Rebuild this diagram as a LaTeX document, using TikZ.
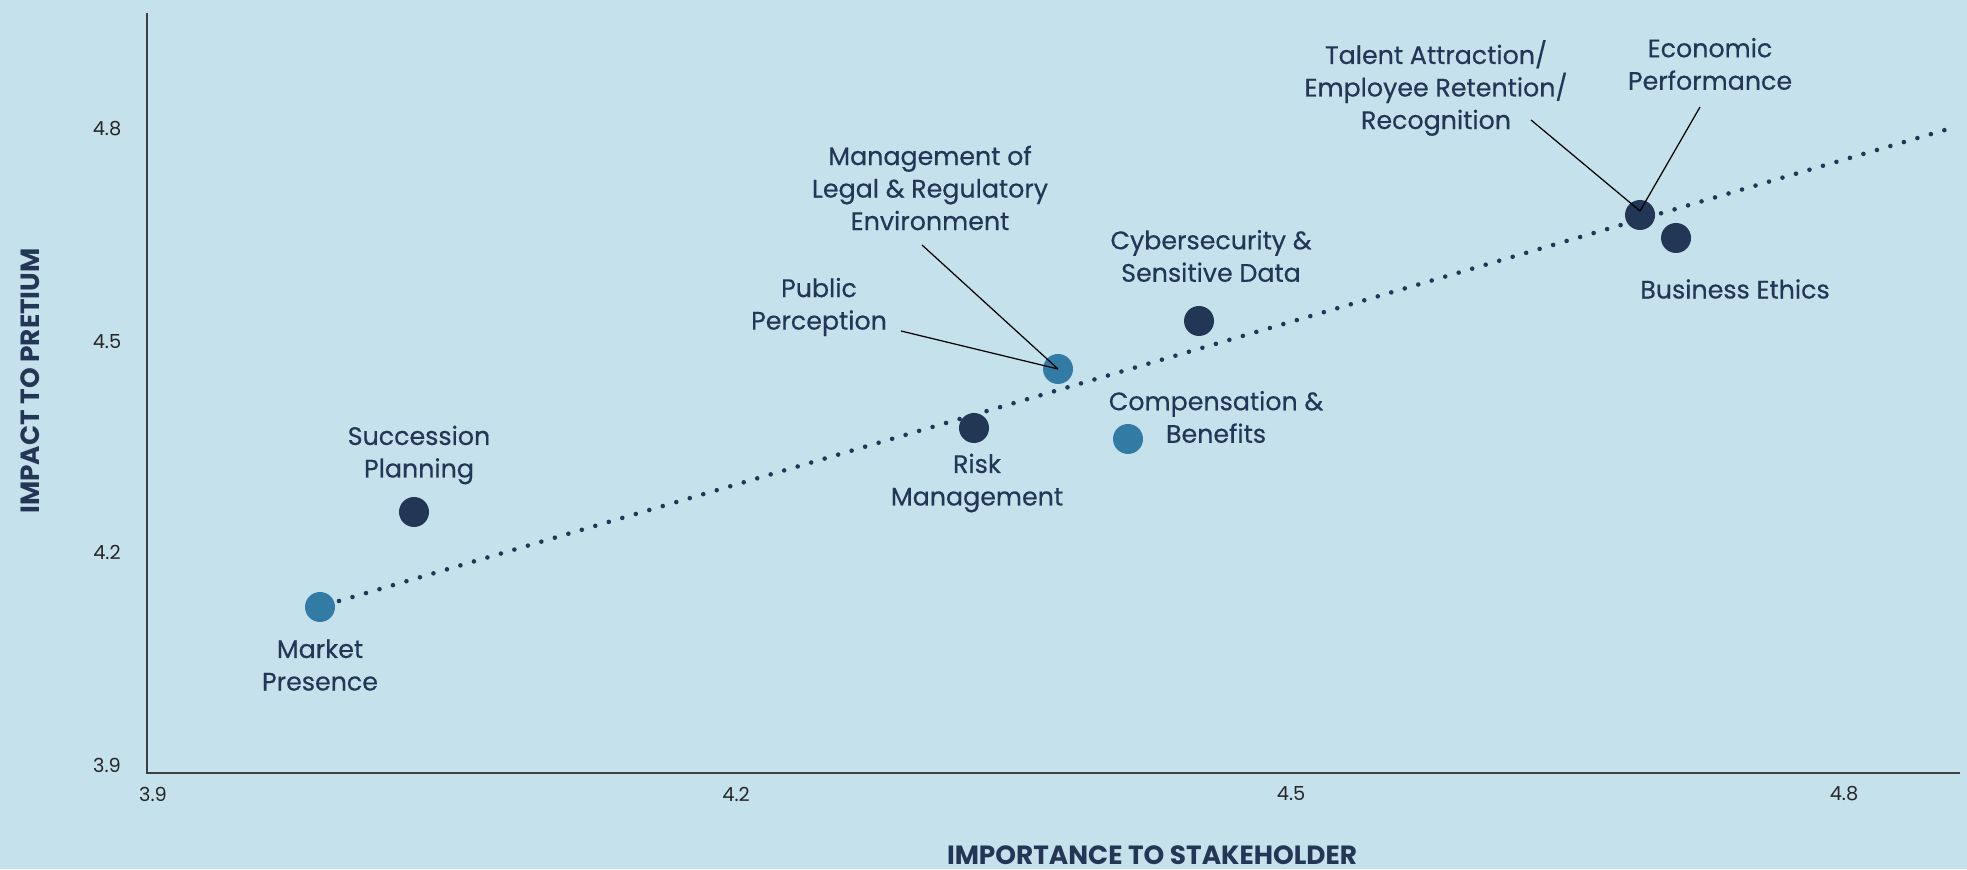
\documentclass[tikz,border=0pt]{standalone}
\usepackage{fontspec}
\setmainfont{Poppins}
\newfontfamily\lblfont[FakeBold=0.4]{Poppins}
\usetikzlibrary{calc,positioning,backgrounds}
\definecolor{bgblue}{HTML}{C5E1EC}
\definecolor{navy}{HTML}{223655}
\definecolor{steel}{HTML}{327BA5}
\tikzset{
  darkdot/.style={circle,fill=navy,inner sep=0pt,minimum size=3mm},
  lightdot/.style={circle,fill=steel,inner sep=0pt,minimum size=3mm},
  lbl/.style={text=navy,align=center,inner sep=0pt,font=\lblfont\fontsize{7.2}{9.25}\selectfont},
  ticklbl/.style={text=black!85,inner sep=0pt,font=\fontsize{5.5}{6}\selectfont},
  axtitle/.style={text=navy,inner sep=0pt,font=\fontsize{7.5}{8}\selectfont\bfseries},
  leader/.style={black,line width=0.35pt}
}

\begin{document}
\begin{tikzpicture}
\fill[bgblue] (0,0) rectangle (19.67,8.69);
\useasboundingbox (0,0) rectangle (19.67,8.69);
% axes
\draw[black!75,line width=0.6pt] (1.47,8.56) coordinate(ytop) -- (1.47,0.96) coordinate(O) -- (19.6,0.96) coordinate(xend);
\foreach \v/\y/\n in {4.8/7.40/a,4.5/5.27/b,4.2/3.17/c,3.9/1.04/d}
  \node[ticklbl] (yt\n) at (1.07,\y) {\v};
\foreach \v/\x/\n in {3.9/1.53/a,4.2/7.36/b,4.5/12.91/c,4.8/18.44/d}
  \node[ticklbl] (xt\n) at (\x,0.75) {\v};
\node[axtitle,rotate=90] (ytitle) at (0.30,4.88) {IMPACT TO PRETIUM};
\node[axtitle] (xtitle) at (11.52,0.14) {IMPORTANCE TO STAKEHOLDER};
% trend line
\draw[navy,line width=1.3pt,line cap=round,dash pattern=on 0pt off 4pt] (3.39,2.68) coordinate(ts) -- (19.45,7.39) coordinate(te);
% topics
\node[lightdot] (mp) at (3.20,2.62) {};
\node[darkdot] (sp) at (4.14,3.57) {};
\node[darkdot] (rm) at (9.74,4.41) {};
\node[lightdot] (pp) at (10.58,5.00) {};
\node[lightdot] (cb) at (11.28,4.30) {};
\node[darkdot] (cs) at (11.99,5.48) {};
\node[darkdot] (ta) at (16.40,6.54) {};
\node[darkdot] (be) at (16.76,6.31) {};
\node[lbl] (mpl) at (3.20,2.04) {Market\\Presence};
\node[lbl] (spl) at (4.19,4.14) {Succession\\Planning};
\node[lbl] (mll) at (9.30,6.81) {Management of\\Legal \& Regulatory\\Environment};
\node[lbl] (ppl) at (8.19,5.62) {Public\\Perception};
\node[lbl] (csl) at (12.11,6.13) {Cybersecurity \&\\Sensitive Data};
\node[lbl] (cbl) at (12.16,4.52) {Compensation \&\\Benefits};
\node[lbl] (rml) at (9.77,3.86) {Risk\\Management};
\node[lbl] (tal) at (14.36,7.81) {Talent Attraction/\\Employee Retention/\\Recognition};
\node[lbl] (epl) at (17.10,8.05) {Economic\\Performance};
\node[lbl] (bel) at (17.35,5.80) {Business Ethics};
% leaders
\draw[leader] (9.22,6.24) coordinate(mlx) -- (pp.center);
\draw[leader] (9.01,5.38) coordinate(ppx) -- (pp.center);
\draw[leader] (15.31,7.49) coordinate(tax) -- ($(ta.center)+(0,0.04)$);
\draw[leader] (17.00,7.62) coordinate(epx) -- ($(ta.center)+(0,0.04)$);
\end{tikzpicture}
\end{document}
